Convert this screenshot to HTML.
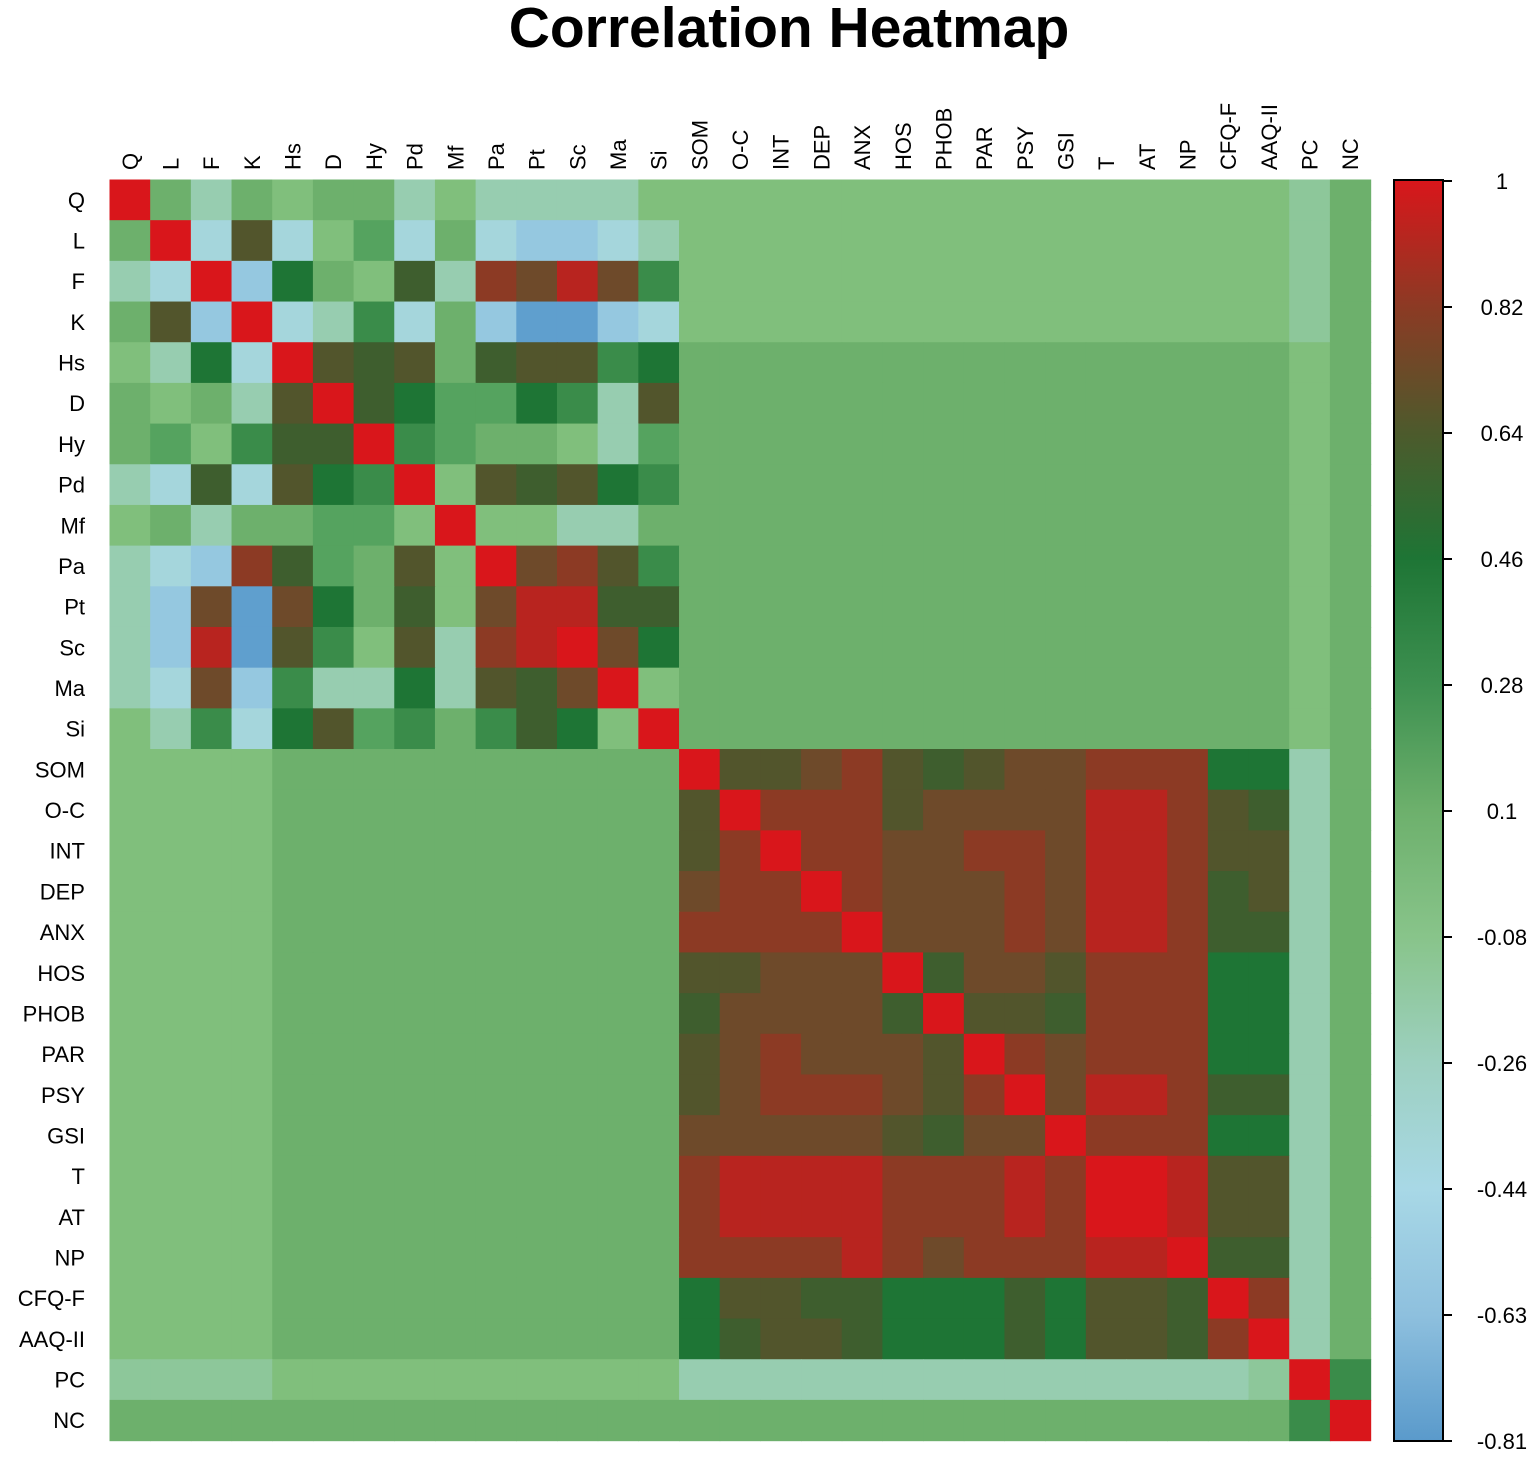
<!DOCTYPE html>
<html><head><meta charset="utf-8"><style>
body{margin:0;background:#fff;}
svg text{font-family:"Liberation Sans",Arial,sans-serif;}
</style></head><body>
<svg id="s" width="1535" height="1458" xmlns="http://www.w3.org/2000/svg">
<defs><linearGradient id="cb" x1="0" y1="0" x2="0" y2="1">
<stop offset="0" stop-color="#d9161b"/><stop offset="0.1" stop-color="#8c3a24"/>
<stop offset="0.2" stop-color="#4d5a2c"/><stop offset="0.3" stop-color="#1e7535"/>
<stop offset="0.4" stop-color="#3d9050"/><stop offset="0.5" stop-color="#6db06c"/>
<stop offset="0.6" stop-color="#88c48a"/><stop offset="0.7" stop-color="#9dd0c0"/>
<stop offset="0.8" stop-color="#a8d8e6"/><stop offset="0.9" stop-color="#8ec0de"/>
<stop offset="1" stop-color="#5a9acb"/></linearGradient></defs>
<text x="789" y="47" text-anchor="middle" font-size="57" font-weight="bold">Correlation Heatmap</text>
<g id="g"></g>
<rect x="1394" y="180" width="49" height="1261" fill="url(#cb)" stroke="#000" stroke-width="2"/>
</svg>
<script>
var pal={R:"#d9161b",r:"#b8241f",b:"#8c3a24",o:"#6e4a2a",v:"#52552c",d:"#3e5e2e",D:"#1e7535",g:"#3a8c4a",m:"#55a35f",l:"#6db06c",p:"#80bf7c",q:"#8dc79a",c:"#97cdb0",a:"#a5d6dc",s:"#95c8e0",B:"#5f9fce"};
var labs=["Q","L","F","K","Hs","D","Hy","Pd","Mf","Pa","Pt","Sc","Ma","Si","SOM","O-C","INT","DEP","ANX","HOS","PHOB","PAR","PSY","GSI","T","AT","NP","CFQ-F","AAQ-II","PC","NC"];
var tl=["Rlclpllcpccccp","lRavapmalassac","caRsDlpdcborog","lvsRacgalsBBsa","pcDaRvdvldvvgD","lplcvRdDmmDgcv","lmpgddRgmllpcm","cadavDgRpvdvDg","plcllmmpRppccl","casbdmlvpRobvg","csoBoDldporrdd","csrBvgpvcbrRoD","caosgccDcvdoRp","pcgaDvmglgdDpR"];
var br=["RvvobvdvoobbbDDcl","vRbbbvoooorrbvdcl","vbRbboobborrbvvcl","obbRboooborrbdvcl","bbbbRoooborrbddcl","vvoooRdoovbbbDDcl","doooodRvvdbbbDDcl","vobooovRbobbbDDcl","vobbbovbRorrbddcl","ooooovdooRbbbDDcl","brrrrbbbrbRRrvvcl","brrrrbbbrbRRrvvcl","bbbbrbobbbrrRddcl","DvvddDDDdDvvdRbcl","DdvvdDDDdDvvdbRcl","ccccccccccccccqRg","lllllllllllllllgR"];
function tr(i,j){
  if(j==29) return i<4?"q":"p";
  if(j==30) return "l";
  return i<4?"p":"l";}
var N=31,x0=109.5,y0=179.5,cs=40.68,h="";
for(var i=0;i<N;i++)for(var j=0;j<N;j++){
  var k;
  if(i<14&&j<14)k=tl[i][j];
  else if(i>=14&&j>=14)k=br[i-14][j-14]||"l";
  else if(i<14)k=tr(i,j);else k=tr(j,i);
  var c=pal[k]||"#6db06c";
  h+='<rect x="'+(x0+j*cs).toFixed(2)+'" y="'+(y0+i*cs).toFixed(2)+'" width="'+(cs+0.6).toFixed(2)+'" height="'+(cs+0.6).toFixed(2)+'" fill="'+c+'"/>';
}
for(var i=0;i<N;i++){
  var cy=y0+i*cs+cs/2;
  h+='<text x="85" y="'+(cy+8)+'" text-anchor="end" font-size="22">'+labs[i]+'</text>';
  var cx=x0+i*cs+cs/2;
  h+='<text transform="translate('+(cx+8)+',170) rotate(-90)" font-size="22">'+labs[i]+'</text>';
}
var ticks=["1","0.82","0.64","0.46","0.28","0.1","-0.08","-0.26","-0.44","-0.63","-0.81"];
for(var t=0;t<11;t++){
  var y=181+t*126;
  h+='<line x1="1443" y1="'+y+'" x2="1452" y2="'+y+'" stroke="#000" stroke-width="2"/>';
  h+='<text x="1502" y="'+(y+8)+'" text-anchor="middle" font-size="22">'+ticks[t]+'</text>';
}
document.getElementById("g").innerHTML=h;
</script>
</body></html>
